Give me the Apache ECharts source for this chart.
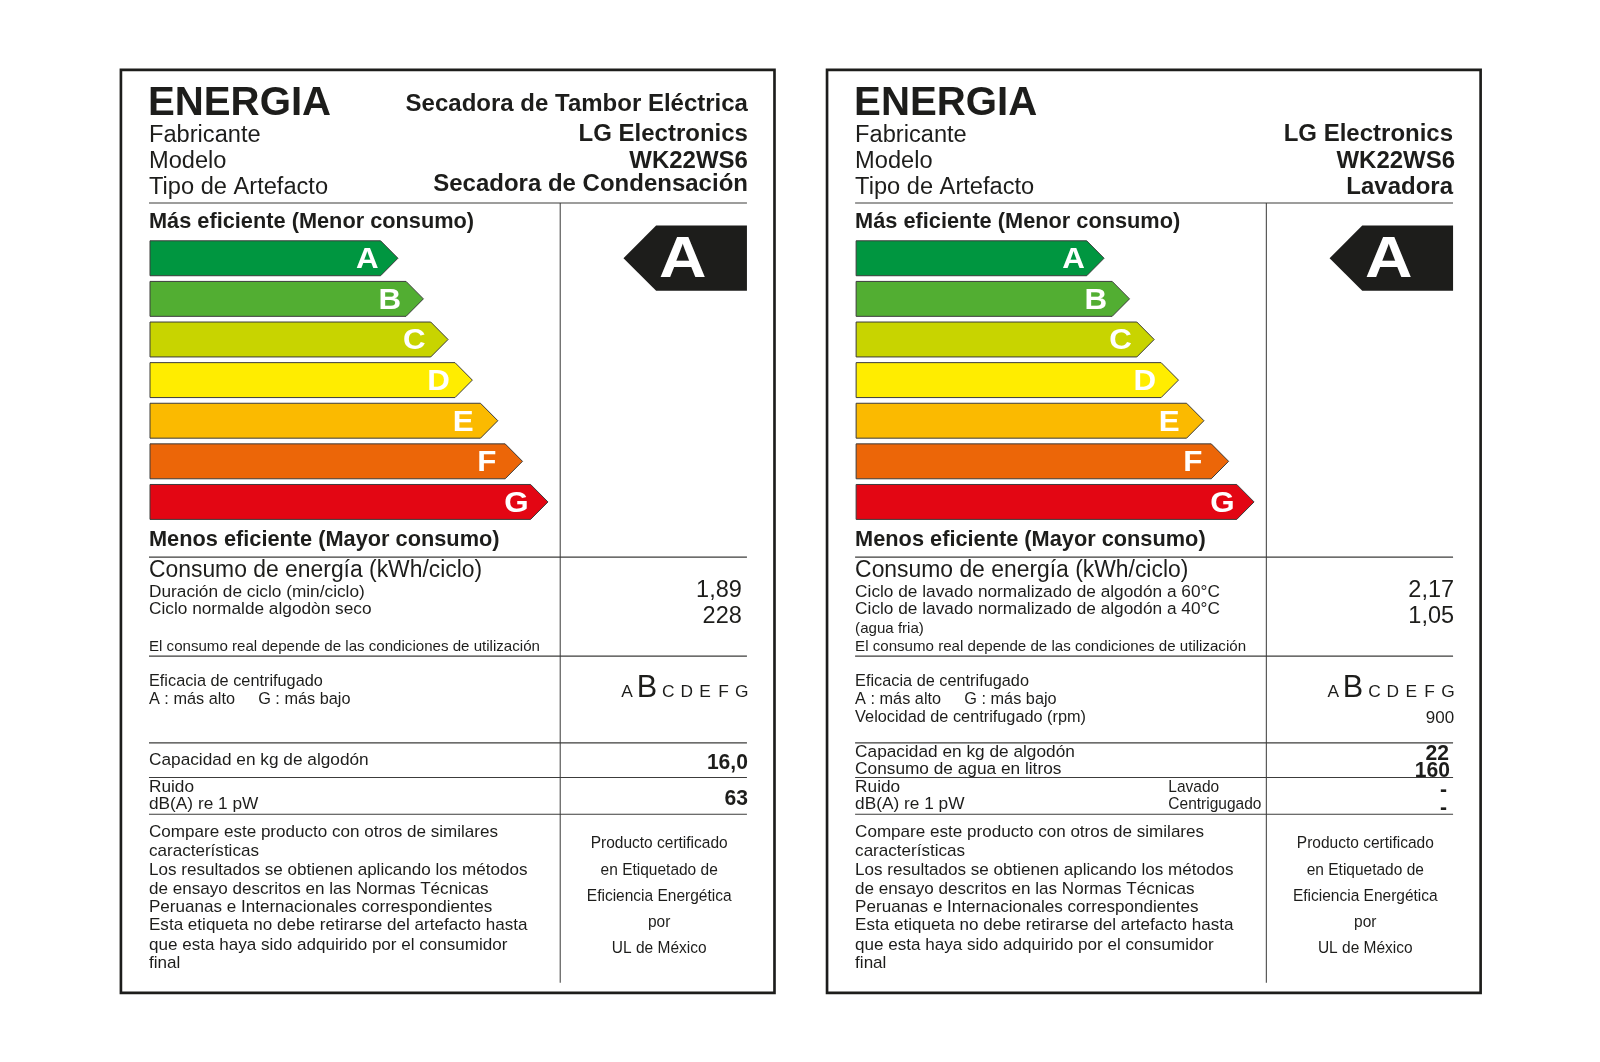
<!DOCTYPE html>
<html>
<head>
<meta charset="utf-8">
<style>html,body{margin:0;padding:0;background:#fff}#main{width:1600px;height:1062px}</style>
<script src="https://cdn.jsdelivr.net/npm/echarts@6/dist/echarts.min.js"></script>
</head>
<body>
<div id="main"></div>
<script>
// chart values
const grades = ['A', 'B', 'C', 'D', 'E', 'F', 'G']
const dryerBars = [62.3, 68.7, 74.9, 81, 87.4, 93.6, 100]
const washerBars = [62.3, 68.7, 74.9, 81, 87.4, 93.6, 100]
const gradeColors = ['#009640', '#52ae32', '#c8d400', '#ffed00', '#fbba00', '#ec6608', '#e30613']

// texts shared by both labels
const leadTexts = ['Fabricante', 'Modelo', 'Tipo de Artefacto']
const noteText = 'El consumo real depende de las condiciones de utilización'
const compareTexts = [
  'Compare este producto con otros de similares',
  'características',
  'Los resultados se obtienen aplicando los métodos',
  'de ensayo descritos en las Normas Técnicas',
  'Peruanas e Internacionales correspondientes',
  'Esta etiqueta no debe retirarse del artefacto hasta',
  'que esta haya sido adquirido por el consumidor',
  'final'
]
const certTexts = ['Producto certificado', 'en Etiquetado de', 'Eficiencia Energética', 'por', 'UL de México']

// dryer label
const dryerHead = ['Secadora de Tambor Eléctrica', 'LG Electronics', 'WK22WS6', 'Secadora de Condensación']
const dryerCycles = ['Duración de ciclo (min/ciclo)', 'Ciclo normalde algodòn seco']
const dryerValues = ['1,89', '228']
const dryerRating = 'A'
const dryerSpinGrade = 'B'

// washer label
const washerHead = ['LG Electronics', 'WK22WS6', 'Lavadora']
const washerCycles = ['Ciclo de lavado normalizado de algodón a 60°C', 'Ciclo de lavado normalizado de algodón a 40°C', '(agua fria)']
const washerValues = ['2,17', '1,05']
const washerRating = 'A'
const washerSpinGrade = 'B'
const washerRpm = '900'
const washerCapacity = ['22', '160']
const washerNoise = ['-', '-']

const k = 1600 / 1568 // layout below is measured on a 1568 wide view
const ink = '#1d1d1b'
const labelGap = 692
const letterNudge = [3, 0, 0, 0, -1, -2, 2]
const classes = {
  title: { size: 40, weight: 'bold', sx: 0.985 },
  head: { size: 24, weight: 'bold', sx: 0.98 },
  lead: { size: 24, weight: 'normal', sx: 0.965 },
  sect: { size: 22, weight: 'bold', sx: 0.969 },
  cons: { size: 23, weight: 'normal', sx: 0.975 },
  small: { size: 15.5, weight: 'normal', sx: 0.98 },
  spin: { size: 15.5, weight: 'normal', sx: 1.03 },
  row: { size: 16.5, weight: 'normal', sx: 1.025 },
  block: { size: 16, weight: 'normal', sx: 1.045 },
  mini: { size: 14.5, weight: 'normal', sx: 1.02 },
  val: { size: 24, weight: 'normal', sx: 0.96 },
  bold: { size: 22, weight: 'bold', sx: 0.94 },
  rpm: { size: 17, weight: 'normal', sx: 0.98 }
}

function txt(x, base, str, cls, align) {
  const c = classes[cls]
  return {
    type: 'text',
    x: x,
    y: base + 1 - c.size * 0.35,
    scaleX: c.sx,
    silent: true,
    style: {
      text: str,
      x: 0,
      y: 0,
      fill: ink,
      font: c.weight + ' ' + c.size + 'px "Liberation Sans"',
      textAlign: align || 'left',
      textVerticalAlign: 'middle'
    }
  }
}

function rule(x1, y1, x2, y2, w) {
  return {
    type: 'line',
    silent: true,
    shape: { x1: x1, y1: y1, x2: x2, y2: y2 },
    style: { stroke: '#3c3c3b', lineWidth: w || 1 }
  }
}

// frame, rules and texts both labels have in common
function commonParts(dx) {
  const out = []
  out.push({
    type: 'rect',
    silent: true,
    shape: { x: 118.5 + dx, y: 68.5, width: 640.5, height: 904.5 },
    style: { fill: '#fff', stroke: '#1d1d1b', lineWidth: 2.6 }
  })
  ;[199, 546, 643, 728, 762, 798].forEach(y => out.push(rule(146 + dx, y, 732 + dx, y, 1.1)))
  out.push(rule(549 + dx, 199, 549 + dx, 963, 1))

  out.push(txt(145 + dx, 115, 'ENERGIA', 'title'))
  leadTexts.forEach((t, i) => out.push(txt(146 + dx, [140, 165, 191][i], t, 'lead')))
  out.push(txt(146 + dx, 224, 'Más eficiente (Menor consumo)', 'sect'))
  out.push(txt(146 + dx, 536, 'Menos eficiente (Mayor consumo)', 'sect'))
  out.push(txt(146 + dx, 566, 'Consumo de energía (kWh/ciclo)', 'cons'))
  out.push(txt(146 + dx, 638, noteText, 'mini'))
  out.push(txt(146 + dx, 672, 'Eficacia de centrifugado', 'spin'))
  out.push(txt(146 + dx, 690, 'A : más alto', 'spin'))
  out.push(txt(253 + dx, 690, 'G : más bajo', 'spin'))
  out.push(txt(146 + dx, 776, 'Ruido', 'row'))
  out.push(txt(146 + dx, 793, 'dB(A) re 1 pW', 'row'))
  compareTexts.forEach((t, i) => out.push(txt(146 + dx, [820, 839, 858, 876, 894, 912, 931, 949][i], t, 'block')))
  certTexts.forEach((t, i) => out.push(txt(646 + dx, [831, 858, 883, 909, 934][i], t, 'small', 'center')))
  return out
}

// black pointer with the rating letter
function ratingBadge(dx, letter) {
  return [{
    type: 'polygon',
    silent: true,
    shape: { points: [[611 + dx, 253], [643 + dx, 221], [732 + dx, 221], [732 + dx, 285], [643 + dx, 285]] },
    style: { fill: ink }
  }, {
    type: 'text',
    silent: true,
    x: 669 + dx,
    y: 256,
    scaleX: 1.15,
    style: { text: letter, x: 0, y: 0, fill: '#fff', font: 'bold 56px "Liberation Sans"', textAlign: 'center', textVerticalAlign: 'middle' }
  }]
}

// row of grade letters, the obtained one is bigger
function gradeRow(dx, picked) {
  const xs = [614.5, 634, 655, 673, 691, 709, 727]
  return grades.map((g, i) => {
    const big = g === picked
    return {
      type: 'text',
      silent: true,
      x: xs[i] + dx,
      y: big ? 675 : 678,
      style: { text: g, x: 0, y: 0, fill: ink, font: (big ? 30 : 17) + 'px "Liberation Sans"', textAlign: 'center', textVerticalAlign: 'middle' }
    }
  })
}

function dryerParts() {
  const out = commonParts(0).concat(ratingBadge(0, dryerRating), gradeRow(0, dryerSpinGrade))
  dryerHead.forEach((t, i) => out.push(txt(733, [110, 139, 165, 188][i], t, 'head', 'right')))
  dryerCycles.forEach((t, i) => out.push(txt(146, [585, 602][i], t, 'row')))
  dryerValues.forEach((t, i) => out.push(txt(727, [586, 611][i], t, 'val', 'right')))
  out.push(txt(146, 750, 'Capacidad en kg de algodón', 'row'))
  out.push(txt(733, 754, '16,0', 'bold', 'right'))
  out.push(txt(733, 790, '63', 'bold', 'right'))
  return out
}

function washerParts() {
  const dx = labelGap
  const out = commonParts(dx).concat(ratingBadge(dx, washerRating), gradeRow(dx, washerSpinGrade))
  washerHead.forEach((t, i) => out.push(txt([732, 734, 732][i] + dx, [139, 165, 191][i], t, 'head', 'right')))
  out.push(txt(146 + dx, 585, washerCycles[0], 'row'))
  out.push(txt(146 + dx, 602, washerCycles[1], 'row'))
  out.push(txt(146 + dx, 620, washerCycles[2], 'mini'))
  washerValues.forEach((t, i) => out.push(txt(733 + dx, [586, 611][i], t, 'val', 'right')))
  out.push(txt(146 + dx, 708, 'Velocidad de centrifugado (rpm)', 'spin'))
  out.push(txt(733 + dx, 709, washerRpm, 'rpm', 'right'))
  out.push(txt(146 + dx, 742, 'Capacidad en kg de algodón', 'row'))
  out.push(txt(146 + dx, 759, 'Consumo de agua en litros', 'row'))
  out.push(txt(728 + dx, 745, washerCapacity[0], 'bold', 'right'))
  out.push(txt(729 + dx, 762, washerCapacity[1], 'bold', 'right'))
  out.push(txt(453 + dx, 776, 'Lavado', 'small'))
  out.push(txt(453 + dx, 793, 'Centrigugado', 'small'))
  out.push(txt(726 + dx, 781, washerNoise[0], 'bold', 'right'))
  out.push(txt(726 + dx, 798, washerNoise[1], 'bold', 'right'))
  return out
}

function renderArrow(params, api) {
  const i = api.value(1)
  const tip = api.coord([api.value(0), i])
  const start = api.coord([0, i])
  const h = api.size([0, 1])[1] * 0.86
  const head = 17 * k
  const y0 = tip[1] - h / 2
  const y1 = tip[1] + h / 2
  return {
    type: 'group',
    children: [{
      type: 'polygon',
      shape: { points: [[start[0], y0], [tip[0] - head, y0], [tip[0], tip[1]], [tip[0] - head, y1], [start[0], y1]] },
      style: { fill: gradeColors[i], stroke: '#3c3c3b', lineWidth: 1 }
    }, {
      type: 'text',
      x: tip[0] + (letterNudge[i] - 33) * k,
      y: tip[1] + 2,
      scaleX: 1.08,
      style: {
        text: grades[i],
        x: 0,
        y: 0,
        fill: '#fff',
        font: 'bold 29px "Liberation Sans"',
        textAlign: 'center',
        textVerticalAlign: 'middle'
      }
    }]
  }
}

function barGrid(dx) {
  return { left: (147 + dx) * k, top: 233.2 * k, width: 390 * k, height: 278.6 * k }
}

const chart = echarts.init(document.getElementById('main'), null, { renderer: 'canvas' })
chart.setOption({
  backgroundColor: '#ffffff',
  animation: false,
  grid: [barGrid(0), barGrid(labelGap)],
  xAxis: [
    { type: 'value', gridIndex: 0, min: 0, max: 100, show: false },
    { type: 'value', gridIndex: 1, min: 0, max: 100, show: false }
  ],
  yAxis: [
    { type: 'category', gridIndex: 0, data: grades, inverse: true, show: false },
    { type: 'category', gridIndex: 1, data: grades, inverse: true, show: false }
  ],
  graphic: [{
    type: 'group',
    x: 0,
    y: 0,
    scaleX: k,
    scaleY: k,
    z: 0,
    children: dryerParts().concat(washerParts())
  }],
  series: [
    {
      type: 'custom',
      name: 'Secadora',
      xAxisIndex: 0,
      yAxisIndex: 0,
      z: 10,
      silent: true,
      encode: { x: 0, y: 1 },
      renderItem: renderArrow,
      data: dryerBars.map((v, i) => [v, i])
    },
    {
      type: 'custom',
      name: 'Lavadora',
      xAxisIndex: 1,
      yAxisIndex: 1,
      z: 10,
      silent: true,
      encode: { x: 0, y: 1 },
      renderItem: renderArrow,
      data: washerBars.map((v, i) => [v, i])
    }
  ]
})
</script>
</body>
</html>
